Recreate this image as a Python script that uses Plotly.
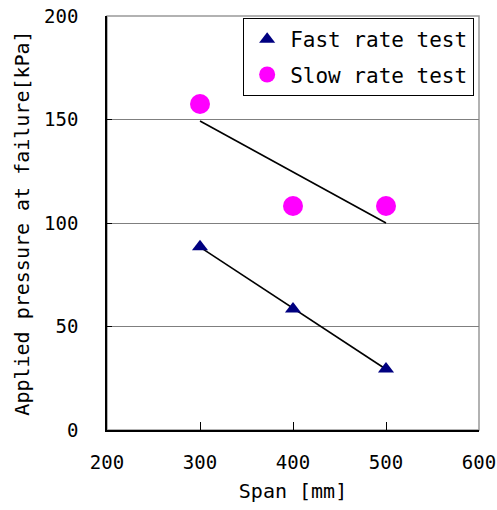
import numpy as np
import plotly.graph_objects as go

span_mm = [300, 400, 500]
fast_kpa = [88.5, 58.5, 29.5]
slow_kpa = [157.5, 108.2, 108.2]

x_ticks = [200, 300, 400, 500, 600]
y_ticks = [0, 50, 100, 150, 200]

FONT = "DejaVu Sans Mono"

fig = go.Figure()

def trend(xs, ys):
    k, b = np.polyfit(xs, ys, 1)
    xe = [min(xs), max(xs)]
    return xe, [k * v + b for v in xe]

for ys in (slow_kpa, fast_kpa):
    tx, ty = trend(span_mm, ys)
    fig.add_trace(go.Scatter(x=tx, y=ty, mode="lines", line=dict(color="black", width=1.6),
                             showlegend=False, hoverinfo="skip"))

fig.add_trace(go.Scatter(x=span_mm, y=fast_kpa, mode="markers", name="Fast rate test",
                         legendgroup="fast",
                         marker=dict(symbol="triangle-up", size=14, color="#000080")))
fig.add_trace(go.Scatter(x=span_mm, y=slow_kpa, mode="markers", name="Slow rate test",
                         legendgroup="slow",
                         marker=dict(symbol="circle", size=20, color="#FF00FF")))

fig.add_shape(type="rect", xref="paper", yref="paper", x0=0, y0=0, x1=1, y1=1,
              line=dict(color="#999999", width=1.5), layer="below")

fig.update_layout(
    width=497, height=510,
    margin=dict(l=107, r=18, t=16, b=80, autoexpand=False),
    paper_bgcolor="white", plot_bgcolor="white",
    font=dict(family=FONT, size=18, color="black"),
    legend=dict(x=0.366, y=0.995, xanchor="left", yanchor="top",
                bordercolor="black", borderwidth=1, bgcolor="white",
                font=dict(family=FONT, size=21), tracegroupgap=5,
                traceorder="grouped", itemwidth=36),
    xaxis=dict(range=[200, 600], tickvals=x_ticks, ticktext=[str(v) for v in x_ticks],
               showgrid=False, zeroline=False, showline=True, linecolor="black", linewidth=1.5,
               ticks="inside", ticklen=8, tickcolor="black", ticklabelstandoff=14,
               ticklabeloverflow="allow",
               tickfont=dict(family=FONT, size=19), automargin=False,
               title=dict(text="Span [mm]", font=dict(family=FONT, size=20), standoff=12)),
    yaxis=dict(range=[0, 200], tickvals=y_ticks, ticktext=[str(v) for v in y_ticks],
               showgrid=True, gridcolor="#7f7f7f", gridwidth=1, zeroline=False,
               showline=True, linecolor="black", linewidth=1.5,
               ticks="inside", ticklen=5, tickcolor="black", ticklabelstandoff=23,
               ticklabeloverflow="allow",
               tickfont=dict(family=FONT, size=19), automargin=False,
               title=dict(text="Applied pressure at failure[kPa]", font=dict(family=FONT, size=20), standoff=9)),
)

fig.write_html("out.html", config={"displayModeBar": False},
               post_script="document.body.style.margin='0';document.body.style.overflow='hidden';")
